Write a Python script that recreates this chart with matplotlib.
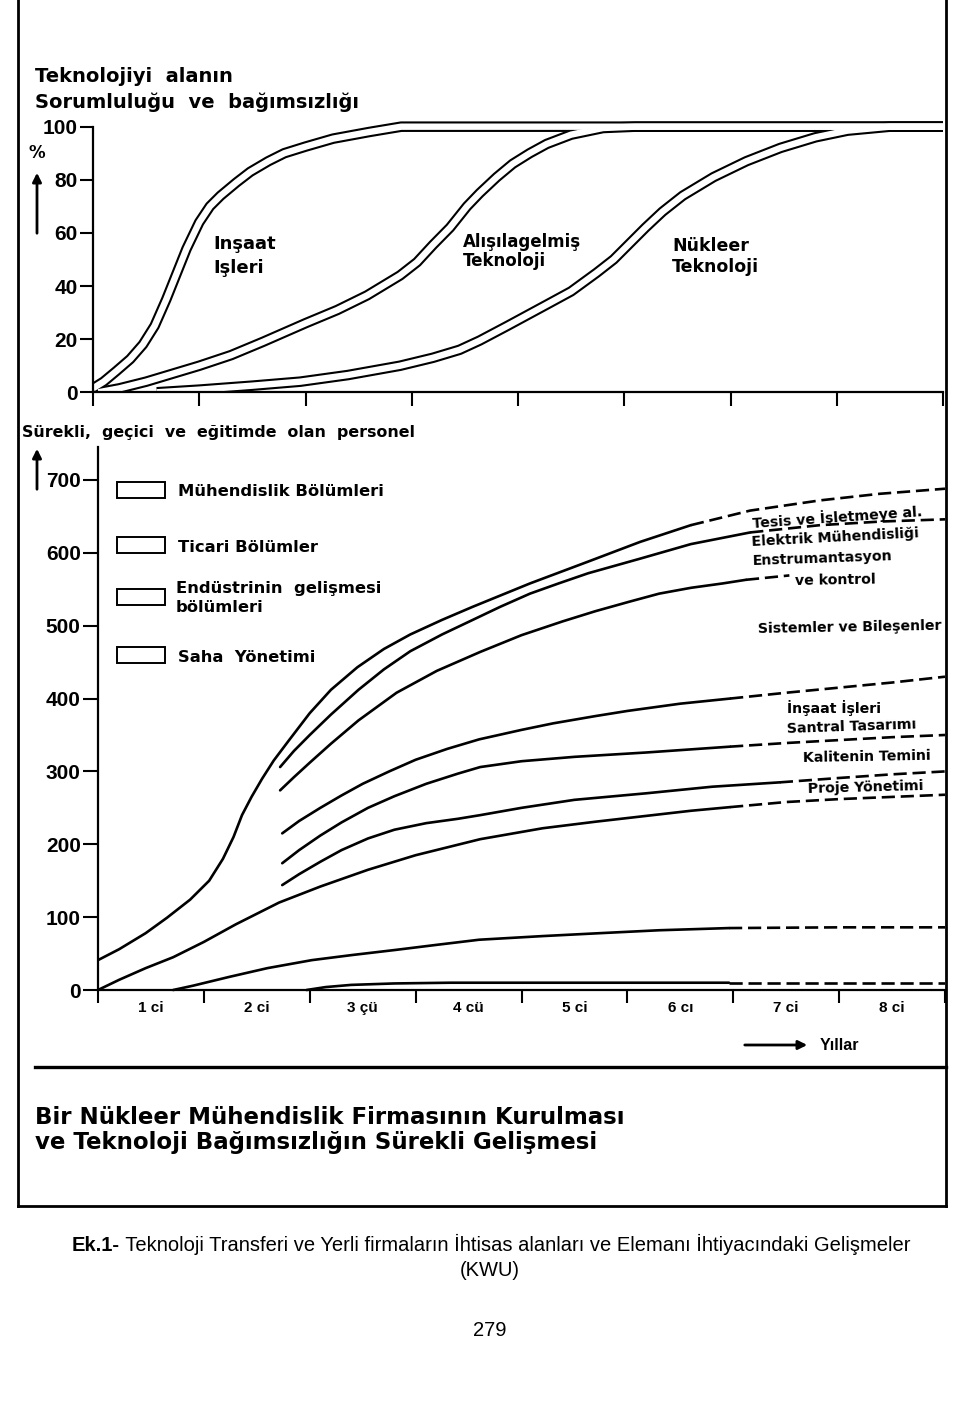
import matplotlib
matplotlib.use("Agg")
import matplotlib.pyplot as plt
from matplotlib import font_manager
from matplotlib.lines import Line2D
from matplotlib.patches import Rectangle, FancyArrowPatch
import numpy as np

W, H = 960, 1402

# ---- top panel: share of technology handled in-house (%), by year ----
insaat_yr = [0, 0.1, 0.22, 0.35, 0.47, 0.58, 0.69, 0.8, 0.88, 1.0, 1.1, 1.2, 1.35, 1.48,
             1.65, 1.8, 2.0, 2.26, 2.6, 2.9, 3.5, 8]
insaat_pct = [1.5, 4, 8, 12.5, 18, 25, 35, 46, 54, 64, 70, 74, 79, 83,
              87, 90, 92.5, 95.5, 98, 100, 100, 100]

alisilagelmis_yr = [0.05, 0.25, 0.5, 0.75, 1.0, 1.3, 1.6, 2.0, 2.3, 2.58, 2.89, 3.05, 3.2,
                    3.36, 3.52, 3.64, 3.8, 3.95, 4.11, 4.27, 4.5, 4.8, 5.1, 8]
alisilagelmis_pct = [0, 1.5, 4, 7, 10, 14, 19, 26, 31, 36.5, 44, 49, 55.5,
                     62, 70, 75, 81, 86, 90, 93.5, 97, 99.5, 100, 100]

nukleer_yr = [0.6, 1.0, 1.5, 1.95, 2.4, 2.89, 3.2, 3.45, 3.64, 3.9, 4.27, 4.5, 4.74, 4.9,
              5.05, 5.2, 5.36, 5.55, 5.84, 6.15, 6.47, 6.8, 7.1, 7.5, 8]
nukleer_pct = [0, 1, 2.5, 4, 6.5, 10, 13, 16, 19.5, 25, 33, 38, 45, 50,
               56, 62, 68, 74, 81, 87, 92, 96, 98.5, 100, 100]

top_labels = [("Inşaat", "Işleri"), ("Alışılagelmiş", "Teknoloji"), ("Nükleer", "Teknoloji")]
top_yticks = [0, 20, 40, 60, 80, 100]

# ---- bottom panel: staff numbers, by year ----
tesis_yr = [0, 0.2, 0.45, 0.65, 0.87, 1.05, 1.18, 1.28, 1.36, 1.45, 1.55, 1.66, 1.8, 2.0,
            2.2, 2.45, 2.7, 2.95, 3.25, 3.54, 4.08, 4.63, 5.12, 5.6, 6.16, 6.82, 7.38, 8.0]
tesis_val = [41, 56, 78, 99, 124, 150, 180, 210, 240, 265, 290, 315, 342, 380,
             412, 443, 468, 488, 508, 526, 558, 588, 615, 638, 658, 672, 681, 688]

elektrik_yr = [1.72, 1.85, 2.0, 2.2, 2.46, 2.7, 2.95, 3.25, 3.54, 3.8, 4.08, 4.35, 4.63,
               5.12, 5.6, 6.16, 6.82, 7.4, 8.0]
elektrik_val = [306, 328, 350, 378, 412, 440, 465, 488, 508, 526, 544, 558, 572,
                592, 612, 628, 638, 643, 646]

enstruman_yr = [1.72, 1.85, 2.0, 2.2, 2.46, 2.82, 3.2, 3.61, 4.0, 4.39, 4.7, 5.02, 5.3,
                5.6, 5.9, 6.12, 6.53]
enstruman_val = [274, 292, 312, 338, 370, 408, 438, 464, 487, 506, 520, 533, 544,
                 552, 558, 563, 569]

insaat_isleri_yr = [1.74, 1.9, 2.1, 2.3, 2.5, 2.75, 3.0, 3.3, 3.6, 4.0, 4.3, 4.7, 5.0, 5.5,
                    5.97, 6.5, 7.0, 7.5, 8.0]
insaat_isleri_val = [215, 232, 250, 267, 283, 300, 316, 331, 344, 357, 366, 376, 383, 393,
                     400, 408, 415, 422, 430]

santral_yr = [1.74, 1.9, 2.1, 2.3, 2.55, 2.8, 3.1, 3.4, 3.61, 4.0, 4.5, 5.18, 5.97, 6.5,
              7.0, 7.5, 8.0]
santral_val = [174, 192, 212, 230, 250, 266, 283, 297, 306, 314, 320, 326, 334, 339,
               343, 347, 350]

kalite_yr = [1.74, 1.9, 2.1, 2.3, 2.55, 2.8, 3.1, 3.4, 3.61, 4.0, 4.5, 5.18, 5.8, 6.44,
             7.0, 7.5, 8.0]
kalite_val = [144, 159, 176, 192, 208, 220, 229, 235, 240, 250, 261, 270, 279, 285,
              291, 296, 300]

proje_yr = [0, 0.2, 0.45, 0.71, 1.0, 1.3, 1.71, 2.1, 2.55, 3.0, 3.61, 4.2, 4.7, 5.18,
            5.6, 5.97, 6.5, 7.0, 7.5, 8.0]
proje_val = [0, 14, 30, 45, 66, 90, 120, 142, 165, 185, 207, 222, 231, 239,
             246, 251, 258, 262, 265, 268]

alt1_yr = [0.71, 0.9, 1.24, 1.6, 2.02, 2.4, 2.81, 3.2, 3.6, 4.2, 4.74, 5.3, 5.96, 7.0, 8.0]
alt1_val = [0, 6, 18, 30, 41, 48, 55, 62, 69, 74, 78, 82, 85, 86, 86]

alt2_yr = [1.97, 2.15, 2.39, 2.8, 3.33, 4.5, 5.96, 7.0, 8.0]
alt2_val = [0, 4, 7, 9, 10, 10, 10, 10, 10]

bottom_yticks = [0, 100, 200, 300, 400, 500, 600, 700]
year_labels = ["1 ci", "2 ci", "3 çü", "4 cü", "5 ci", "6 cı", "7 ci", "8 ci"]

legend_labels = ["Mühendislik Bölümleri", "Ticari Bölümler",
                 "Endüstrinin  gelişmesi\nbölümleri", "Saha  Yönetimi"]

right_labels = ["Tesis ve İşletmeye al.", "Elektrik Mühendisliği", "Enstrumantasyon",
                "ve kontrol", "Sistemler ve Bileşenler", "İnşaat İşleri",
                "Santral Tasarımı", "Kalitenin Temini", "Proje Yönetimi"]

# ---- fonts ----
names = {f.name for f in font_manager.fontManager.ttflist}
SANS = "Liberation Sans" if "Liberation Sans" in names else "DejaVu Sans"
WIDE = "DejaVu Sans"
TICK_FS, CAP_FS = 15, 14.5


def fx(x):
    return x / W


def fy(y):
    return 1 - y / H


fig = plt.figure(figsize=(W / 100, H / 100), dpi=100)


def ftext(x, y, s, size=11, weight="bold", family=WIDE, ha="left", rot=0, **kw):
    fig.text(fx(x), fy(y), s, fontsize=size, fontweight=weight, family=family,
             ha=ha, va="center", rotation=rot, rotation_mode="anchor", **kw)


def fline(xs, ys, lw=2.0):
    fig.add_artist(Line2D([fx(v) for v in xs], [fy(v) for v in ys], lw=lw, color="k"))


def farrow(x0, y0, x1, y1):
    fig.add_artist(FancyArrowPatch((fx(x0), fy(y0)), (fx(x1), fy(y1)),
                                   transform=fig.transFigure, arrowstyle="-|>",
                                   mutation_scale=13, lw=2, color="k"))


def style_axes(ax, ytop):
    for s in ["top", "right"]:
        ax.spines[s].set_visible(False)
    ax.spines["bottom"].set_position(("data", 0))
    ax.spines["bottom"].set_bounds(0, 8)
    ax.spines["left"].set_bounds(0, ytop)
    for s in ["left", "bottom"]:
        ax.spines[s].set_linewidth(1.6)
        ax.spines[s].set_zorder(5)
    ax.tick_params(which="major", direction="out", length=9.5, width=1.5)
    ax.set_facecolor("none")


# ---- top panel ----
ax1 = fig.add_axes([93 / W, 1 - 392.3 / H, 850 / W, (392.3 - 113.4) / H])
ax1.set_xlim(0, 8)
ax1.set_ylim(0, 105)
style_axes(ax1, 100)
ax1.set_xticks(range(9))
ax1.tick_params(axis="x", labelbottom=False, length=10)
ax1.set_yticks(top_yticks)
ax1.tick_params(axis="y", pad=1.5, labelsize=TICK_FS)
for lbl in ax1.get_yticklabels():
    lbl.set_family(SANS)
    lbl.set_fontweight("bold")

top_series = [(insaat_yr, insaat_pct), (alisilagelmis_yr, alisilagelmis_pct),
              (nukleer_yr, nukleer_pct)]
# double outline: wide black stroke, then white core on top
for xs, ys in top_series:
    ax1.plot(xs, ys, color="k", lw=7.6, solid_capstyle="butt", zorder=1)
for xs, ys in top_series:
    ax1.plot(xs, ys, color="white", lw=4.6, solid_capstyle="butt", zorder=1.5)

# ---- bottom panel ----
ax2 = fig.add_axes([98 / W, 1 - 995.83 / H, 847 / W, (995.83 - 443.55) / H])
ax2.set_xlim(0, 8)
ax2.set_ylim(-8, 750)
style_axes(ax2, 745)
ax2.set_xticks(range(9))
ax2.set_xticks(np.arange(0.5, 8, 1), labels=year_labels, minor=True)
ax2.tick_params(axis="x", which="major", labelbottom=False, length=9)
ax2.tick_params(axis="x", which="minor", length=0, pad=8)
for lbl in ax2.get_xticklabels(minor=True):
    lbl.set_family(SANS)
    lbl.set_fontweight("bold")
    lbl.set_fontsize(11)
ax2.set_yticks(bottom_yticks)
ax2.tick_params(axis="y", pad=2, labelsize=TICK_FS, length=10.5)
for lbl in ax2.get_yticklabels():
    lbl.set_family(SANS)
    lbl.set_fontweight("bold")

bottom_series = [
    (tesis_yr, tesis_val, 5.6),
    (elektrik_yr, elektrik_val, 6.16),
    (enstruman_yr, enstruman_val, 6.12),
    (insaat_isleri_yr, insaat_isleri_val, 5.97),
    (santral_yr, santral_val, 5.97),
    (kalite_yr, kalite_val, 6.44),
    (proje_yr, proje_val, 5.97),
    (alt1_yr, alt1_val, 5.96),
    (alt2_yr, alt2_val, 5.96),
]
for xs, ys, dash_from in bottom_series:
    xs = np.asarray(xs)
    ys = np.asarray(ys)
    k = int((xs <= dash_from).sum())
    ax2.plot(xs[:k], ys[:k], color="k", lw=1.9, solid_capstyle="round", zorder=2)
    if k < len(xs):
        ax2.plot(xs[k - 1:], ys[k - 1:], color="k", lw=1.9, ls=(0, (5, 2.2)), zorder=2)

# ---- texts: top panel ----
ftext(35, 76, "Teknolojiyi  alanın", size=14)
ftext(35, 102, "Sorumluluğu  ve  bağımsızlığı", size=14)
ftext(37, 153, "%", size=12, ha="center")
farrow(37, 236, 37, 170)

for (l1, l2), (x, y1, y2, fs) in zip(top_labels, [(213, 244, 268, 13),
                                                  (463, 242, 261, 12),
                                                  (672, 246, 267, 12.5)]):
    ftext(x, y1, l1, size=fs)
    ftext(x, y2, l2, size=fs)

# ---- texts: bottom panel ----
ftext(22, 432, "Sürekli,  geçici  ve  eğitimde  olan  personel", size=11.4)
farrow(37, 492, 37, 446)

for lbl, yc in zip(legend_labels, [490, 545, 597, 655]):
    fig.add_artist(Rectangle((fx(117), fy(yc + 8)), 48 / W, 16 / H, fill=False,
                             lw=1.4, ec="k", transform=fig.transFigure))
    lines = lbl.split("\n")
    if len(lines) == 2:
        ftext(176, yc - 8, lines[0], size=11.8)
        ftext(176, yc + 10, lines[1], size=11.8)
    else:
        ftext(178, yc + 2, lbl, size=11.8)

for lbl, (x, y, r) in zip(right_labels, [(752, 523, 4), (752, 542, 3), (753, 561, 2),
                                          (795, 581, 1), (758, 629, 1), (787, 708, 0),
                                          (787, 729, 2), (803, 758, 1), (808, 789, 1.5)]):
    ftext(x, y, lbl, size=10.2, rot=r)

farrow(742, 1045, 810, 1045)
ftext(820, 1046, "Yıllar", size=11.5, family=SANS)

# ---- caption area ----
fline([35, 946], [1067, 1067], lw=2.4)
ftext(35, 1117, "Bir Nükleer Mühendislik Firmasının Kurulması", size=16.5)
ftext(35, 1143, "ve Teknoloji Bağımsızlığın Sürekli Gelişmesi", size=16.5)

# frame
fline([18, 18], [0, 1206], lw=2.0)
fline([946, 946], [0, 1206], lw=2.0)
fline([18, 946], [1206, 1206], lw=2.0)

t1 = fig.text(fx(72), fy(1251), "Ek.1-", fontsize=CAP_FS, fontweight="bold",
              family=SANS, ha="left", va="baseline")
fig.add_artist(matplotlib.text.Annotation(
    " Teknoloji Transferi ve Yerli firmaların İhtisas alanları ve Elemanı İhtiyacındaki Gelişmeler",
    xy=(1, 0), xycoords=t1, va="bottom", ha="left", fontsize=CAP_FS, family=SANS))
ftext(490, 1271, "(KWU)", size=CAP_FS, weight="normal", family=SANS, ha="center")
ftext(490, 1330, "279", size=CAP_FS, weight="normal", family=SANS, ha="center")

fig.savefig("out.png", dpi=100)
